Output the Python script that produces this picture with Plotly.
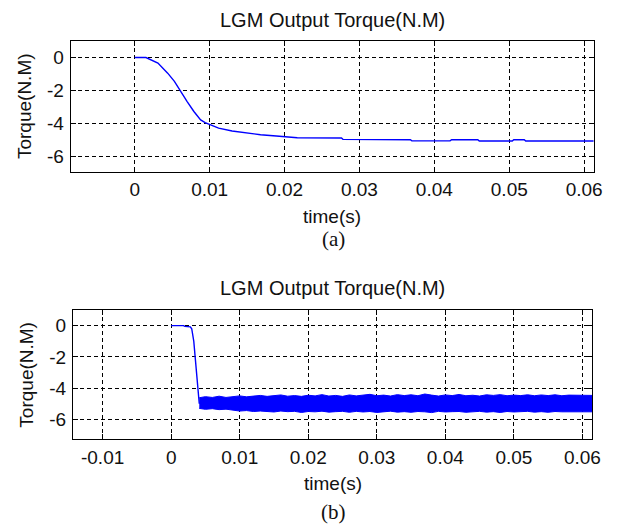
import plotly.graph_objects as go

# ---------------- data ----------------
# (a) smooth response
t_a = [0, 0.0015, 0.0031, 0.0044, 0.0053, 0.0061, 0.0070, 0.0079, 0.0088, 0.0094,
       0.0099, 0.0105, 0.0112, 0.0130, 0.0149, 0.0168, 0.0189, 0.0202, 0.0217, 0.0276,
       0.0278, 0.0368, 0.0370, 0.0421, 0.0423, 0.0458, 0.0460, 0.0504, 0.0506, 0.0520,
       0.0522, 0.0613]
y_a = [0, 0, -0.34, -0.95, -1.45, -2.06, -2.67, -3.27, -3.78, -3.95,
       -4.05, -4.18, -4.28, -4.45, -4.58, -4.68, -4.76, -4.79, -4.86, -4.88,
       -4.96, -4.98, -5.05, -5.05, -4.98, -4.98, -5.06, -5.06, -4.98, -4.98,
       -5.06, -5.06]

# (b) fast drop followed by a dense ripple band
t_b = [0, 0.0018, 0.0020, 0.0028, 0.0030, 0.0033, 0.0035, 0.0037, 0.0039, 0.0041]
y_b = [0, 0, -0.05, -0.08, -0.2, -1.0, -2.0, -3.0, -4.2, -5.0]

t_band = [0.0041, 0.005, 0.006, 0.007, 0.008, 0.009, 0.010, 0.011, 0.012, 0.013,
          0.014, 0.015, 0.016, 0.017, 0.018, 0.019, 0.020, 0.021, 0.022, 0.023,
          0.024, 0.025, 0.026, 0.027, 0.028, 0.029, 0.030, 0.031, 0.032, 0.033,
          0.034, 0.035, 0.036, 0.037, 0.038, 0.039, 0.040, 0.041, 0.042, 0.043,
          0.044, 0.045, 0.046, 0.047, 0.048, 0.049, 0.050, 0.051, 0.052, 0.053,
          0.054, 0.055, 0.056, 0.057, 0.058, 0.059, 0.060, 0.061, 0.0614]
band_upper = [-4.62, -4.55, -4.60, -4.52, -4.60, -4.55, -4.50, -4.56, -4.50, -4.47,
              -4.53, -4.50, -4.44, -4.52, -4.48, -4.53, -4.46, -4.50, -4.42, -4.51,
              -4.47, -4.53, -4.44, -4.50, -4.46, -4.40, -4.49, -4.45, -4.51, -4.42,
              -4.48, -4.43, -4.49, -4.38, -4.45, -4.51, -4.44, -4.48, -4.41, -4.49,
              -4.46, -4.51, -4.43, -4.47, -4.42, -4.49, -4.45, -4.48, -4.43, -4.49,
              -4.44, -4.48, -4.43, -4.49, -4.45, -4.46, -4.44, -4.45, -4.47]
band_lower = [-5.30, -5.36, -5.32, -5.38, -5.35, -5.40, -5.47, -5.44, -5.50, -5.47,
              -5.49, -5.53, -5.47, -5.51, -5.49, -5.56, -5.50, -5.52, -5.48, -5.54,
              -5.51, -5.49, -5.55, -5.49, -5.53, -5.50, -5.56, -5.51, -5.48, -5.54,
              -5.51, -5.55, -5.50, -5.52, -5.57, -5.49, -5.53, -5.51, -5.50, -5.55,
              -5.52, -5.49, -5.54, -5.51, -5.56, -5.50, -5.53, -5.51, -5.49, -5.54,
              -5.51, -5.55, -5.50, -5.52, -5.51, -5.54, -5.50, -5.52, -5.52]

y_ticks = [0, -2, -4, -6]
x_ticks_a = [0, 0.01, 0.02, 0.03, 0.04, 0.05, 0.06]
x_ticks_b = [-0.01, 0, 0.01, 0.02, 0.03, 0.04, 0.05, 0.06]
x_tick_text_a = ["0", "0.01", "0.02", "0.03", "0.04", "0.05", "0.06"]
x_tick_text_b = ["-0.01", "0", "0.01", "0.02", "0.03", "0.04", "0.05", "0.06"]
y_tick_text = ["0", "-2", "-4", "-6"]

title_text = "LGM Output Torque(N.M)"
x_title = "time(s)"
y_title = "Torque(N.M)"

# ---------------- figure ----------------
W, H = 624, 525
BLUE = "#0000FF"
SANS = "Liberation Sans, Arial, sans-serif"
SERIF = "Liberation Serif, Times New Roman, serif"

fig = go.Figure()
fig.add_trace(go.Scatter(x=t_a, y=y_a, mode="lines", line=dict(color=BLUE, width=1.4),
                         xaxis="x", yaxis="y", hoverinfo="skip"))
fig.add_trace(go.Scatter(x=t_b, y=y_b, mode="lines", line=dict(color=BLUE, width=1.4),
                         xaxis="x2", yaxis="y2", hoverinfo="skip"))
fig.add_trace(go.Scatter(x=t_band, y=band_upper, mode="lines",
                         line=dict(color=BLUE, width=1),
                         xaxis="x2", yaxis="y2", hoverinfo="skip"))
fig.add_trace(go.Scatter(x=t_band, y=band_lower, mode="lines", fill="tonexty",
                         fillcolor=BLUE, line=dict(color=BLUE, width=1),
                         xaxis="x2", yaxis="y2", hoverinfo="skip"))


def px_x(p):
    return p / W


def px_y(p):
    return 1 - p / H


axis_common = dict(
    showline=True, linecolor="black", linewidth=1, mirror="ticks",
    ticks="inside", ticklen=5, tickcolor="black",
    showgrid=True, gridcolor="black", gridwidth=1, griddash="4px,3px",
    zeroline=False, tickfont=dict(family=SANS, size=19, color="#111"),
    fixedrange=True,
)

fig.update_layout(
    width=W, height=H, margin=dict(l=0, r=0, t=0, b=0),
    paper_bgcolor="white", plot_bgcolor="white", showlegend=False,
    xaxis=dict(axis_common, domain=[px_x(71.7), px_x(602.3)], range=[-0.00855, 0.06126],
               tickvals=x_ticks_a, ticktext=x_tick_text_a, anchor="y",
               ticklabelstandoff=0),
    yaxis=dict(axis_common, domain=[px_y(171.7), px_y(41)], range=[-6.92, 1.0],
               tickvals=y_ticks, ticktext=y_tick_text, anchor="x",
               ticklabelstandoff=2),
    xaxis2=dict(axis_common, domain=[px_x(74), px_x(600.7)], range=[-0.01433, 0.0614],
                tickvals=x_ticks_b, ticktext=x_tick_text_b, anchor="y2",
                ticklabelstandoff=1),
    yaxis2=dict(axis_common, domain=[px_y(439.3), px_y(310)], range=[-7.28, 1.0],
                tickvals=y_ticks, ticktext=y_tick_text, anchor="x2",
                ticklabelstandoff=2),
)

ann = []
def add_text(text, x, y, size, family=SANS, angle=0):
    ann.append(dict(text=text, x=px_x(x), y=px_y(y), xref="paper", yref="paper",
                    xanchor="center", yanchor="middle", showarrow=False,
                    textangle=angle, font=dict(family=family, size=size, color="#111")))

add_text(title_text, 337, 19.5, 20)
add_text(x_title, 337, 216.7, 19)
add_text(y_title, 25, 106.4, 19, angle=-90)
add_text("(a)", 338, 239.3, 21, family=SERIF)

add_text(title_text, 337.4, 288, 20)
add_text(x_title, 337.4, 483, 19)
add_text(y_title, 26, 375, 19, angle=-90)
add_text("(b)", 338, 511.7, 21, family=SERIF)

fig.update_layout(annotations=ann)
fig.write_html("out.html")
